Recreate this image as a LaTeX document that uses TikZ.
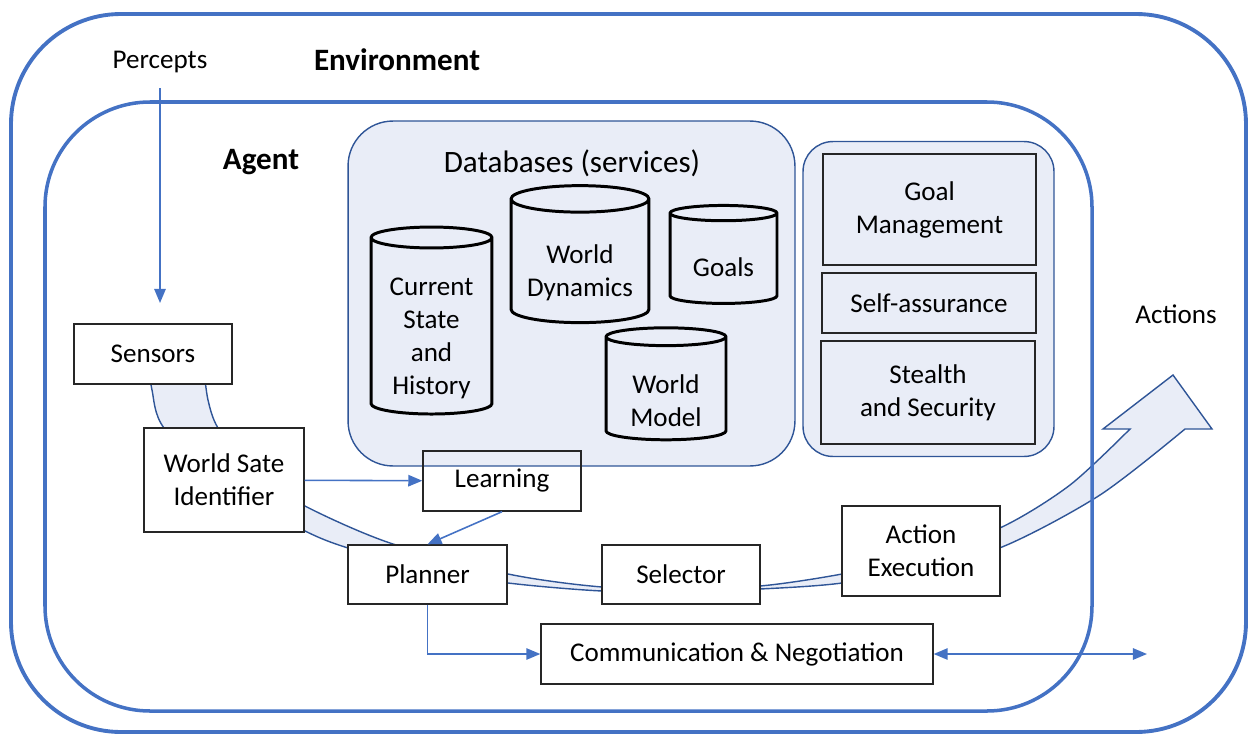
\documentclass[tikz,border=0pt]{standalone}
\usepackage{fontspec}
\setmainfont{Carlito}
\usetikzlibrary{shapes.geometric,arrows.meta}
\definecolor{agentblue}{RGB}{68,114,196}
\definecolor{paneledge}{RGB}{47,85,151}
\definecolor{panelfill}{RGB}{233,237,247}
\definecolor{boxedge}{RGB}{38,38,38}
\begin{document}
\begin{tikzpicture}[
        x=0.02cm, y=-0.02cm,
        >={Triangle[length=8pt,width=6.5pt]},
        font=\fontsize{15.4pt}{18.8pt}\selectfont,
        frame/.style={draw=agentblue, line width=2.2pt},
        panel/.style={rectangle, draw=paneledge, fill=panelfill, line width=0.8pt},
        unit/.style={rectangle, draw=boxedge, fill=white, line width=0.8pt, text centered, align=center, inner sep=0pt},
        subunit/.style={unit, fill=panelfill},
        store/.style={cylinder, shape border rotate=90, aspect=0.25, draw=black, fill=panelfill, line width=1.7pt, align=center, inner sep=0pt},
        flow/.style={->, agentblue, line width=0.9pt},
        band/.style={draw=paneledge, fill=panelfill, line width=0.8pt},
        title/.style={font=\fontsize{17.7pt}{21pt}\selectfont\bfseries},
        heading/.style={font=\fontsize{17.7pt}{21pt}\selectfont}
    ]
    \useasboundingbox (0,0) rectangle (1248,734);

    % Main flow band
    \draw[band] plot[smooth] coordinates {(150,370) (152,390) (164,428) (225,487) (303,530) (348,548) (430,570) (508,583) (602,591) (680,591) (760,589) (842,583) (920,567) (1002,547) (1100,495) (1185,429)}
        -- (1212,429) -- (1173,375) -- (1103,429)
        -- plot[smooth] coordinates {(1130,429) (1070,485) (1002,527) (920,556) (842,574) (760,586) (680,588) (602,587) (508,574) (390,543) (303,505) (250,470) (218,428) (208,400) (204,370)} -- cycle;

    % Environment and agent
    \draw[frame, rounded corners=2.2cm] (11,14) rectangle (1246,732);
    \draw[frame, line width=2pt, rounded corners=2.1cm] (45,102) rectangle (1092,711);
    \node[title] (env) at (397,60) {Environment};
    \node (percepts) at (160,62) {Percepts};
    \node[title] (agent) at (261,162) {Agent};
    \node (actions) at (1176,314) {Actions};

    % Databases
    \node[panel, rounded corners=0.9cm, minimum width=8.94cm, minimum height=6.9cm] (db) at (571.5,293.5) {};
    \node[heading] (dblabel) at (572,163) {Databases (services)};
    \node[store, minimum width=2.42cm, minimum height=3.74cm] (history) at (431.5,326.5) {\rule{0pt}{24pt}Current\\State\\and\\History};
    \node[store, minimum width=2.76cm, minimum height=2.74cm] (dynamics) at (580,261.5) {\rule{0pt}{24pt}World\\Dynamics};
    \node[store, minimum width=2.14cm, minimum height=1.96cm] (goals) at (723.5,259) {\rule{0pt}{19.5pt}Goals};
    \node[store, minimum width=2.4cm, minimum height=2.24cm] (model) at (666,389) {\rule{0pt}{24pt}World\\Model};

    % Management
    \node[panel, rounded corners=0.6cm, minimum width=5.02cm, minimum height=6.3cm] (mgmt) at (928.5,299) {};
    \node[subunit, minimum width=4.26cm, minimum height=2.22cm] (goalmgmt) at (929.5,209.5) {Goal\\Management};
    \node[subunit, minimum width=4.28cm, minimum height=1.2cm] (selfassure) at (929,303) {Self-assurance};
    \node[subunit, minimum width=4.28cm, minimum height=2.06cm] (stealth) at (928,392.5) {Stealth\\and Security};

    % Processing chain
    \node[unit, minimum width=3.16cm, minimum height=1.2cm] (sensors) at (153,354) {Sensors};
    \node[unit, minimum width=3.2cm, minimum height=2.08cm] (wsi) at (224,480) {World Sate\\Identifier};
    \node[unit, fill=none, minimum width=3.16cm, minimum height=1.2cm] (learn) at (502,481) {Learning};
    \node[unit, minimum width=3.18cm, minimum height=1.18cm] (planner) at (427.5,574.5) {Planner};
    \node[unit, minimum width=3.16cm, minimum height=1.18cm] (selector) at (681,574.5) {Selector};
    \node[unit, minimum width=3.16cm, minimum height=1.8cm] (exec) at (921,551) {Action\\Execution};
    \node[unit, minimum width=7.84cm, minimum height=1.2cm] (comm) at (737,654) {Communication \& Negotiation};

    % Arrows
    \coordinate (percin) at (160,303);
    \coordinate (outlink) at (1147,654);
    \draw[flow, shorten <=0.18cm] (percepts) -- (percin);
    \draw[flow] (wsi) -- (learn);
    \draw[flow] (learn.south) -- (planner.north);
    \draw[flow] (planner.south) |- (comm.west);
    \draw[flow, <->] (comm.east) -- (outlink);
\end{tikzpicture}
\end{document}
